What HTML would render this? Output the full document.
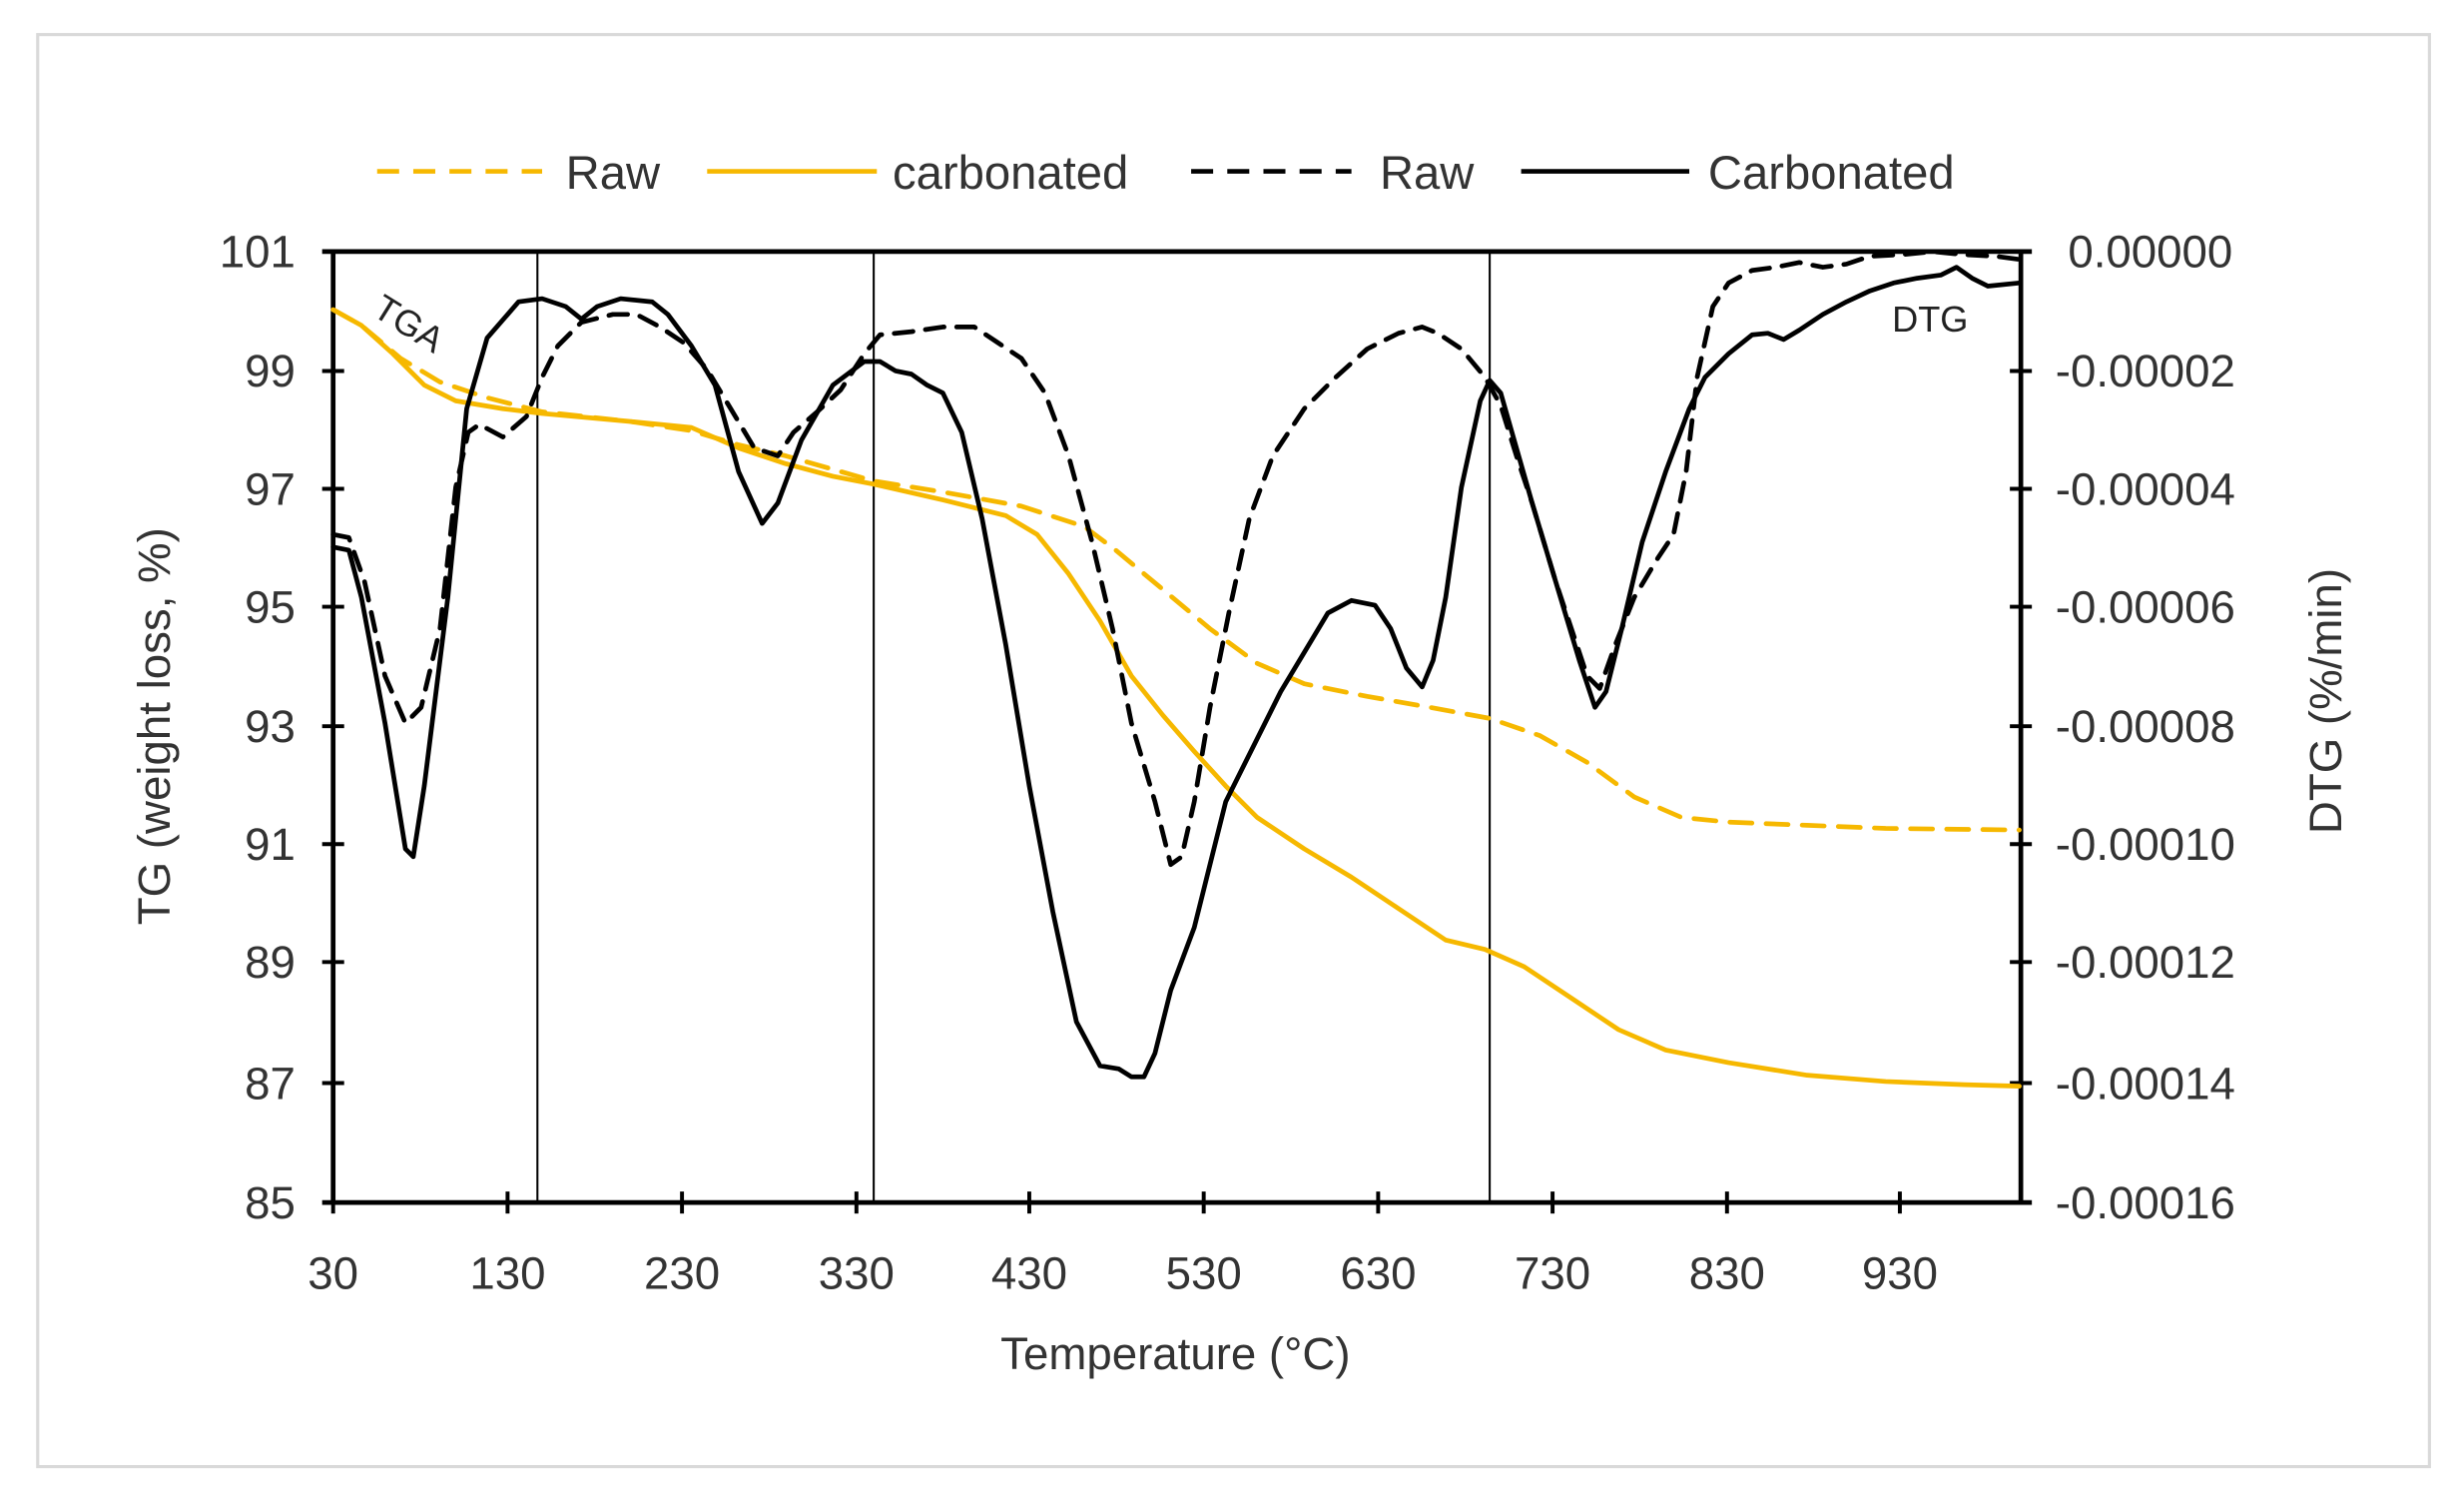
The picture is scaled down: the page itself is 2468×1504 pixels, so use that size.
<!DOCTYPE html>
<html><head><style>html,body{margin:0;padding:0;background:#fff}svg{display:block}</style></head>
<body>
<svg width="2468" height="1504" viewBox="0 0 1568 955.5" preserveAspectRatio="none" xmlns="http://www.w3.org/2000/svg" font-family="Liberation Sans, sans-serif">
<rect x="0" y="0" width="1568" height="955.5" fill="#fff"/>
<rect x="24" y="22" width="1522" height="911" fill="#fff" stroke="#d9d9d9" stroke-width="2"/>
<g font-size="30" fill="#333">
<line x1="240" y1="109" x2="345" y2="109" stroke="#f6b800" stroke-width="3" stroke-dasharray="14,9"/><text x="360" y="120">Raw</text>
<line x1="450" y1="109" x2="558" y2="109" stroke="#f6b800" stroke-width="3"/><text x="568" y="120">carbonated</text>
<line x1="758" y1="109" x2="860" y2="109" stroke="#000" stroke-width="3" stroke-dasharray="14,9"/><text x="878" y="120">Raw</text>
<line x1="968" y1="109" x2="1075" y2="109" stroke="#000" stroke-width="3"/><text x="1087" y="120">Carbonated</text>
</g>
<g stroke="#000" stroke-width="1.3">
<line x1="342" y1="160" x2="342" y2="765"/><line x1="556" y1="160" x2="556" y2="765"/><line x1="948" y1="160" x2="948" y2="765"/>
</g>
<g stroke="#000" stroke-width="3" fill="none">
<line x1="212" y1="160" x2="212" y2="765"/><line x1="1286" y1="160" x2="1286" y2="765"/>
<line x1="205" y1="160" x2="1293" y2="160"/><line x1="205" y1="765" x2="1293" y2="765"/>
</g>
<g stroke="#000" stroke-width="2.5">
<line x1="205" y1="236" x2="219" y2="236"/><line x1="205" y1="311" x2="219" y2="311"/><line x1="205" y1="386" x2="219" y2="386"/><line x1="205" y1="462" x2="219" y2="462"/><line x1="205" y1="537" x2="219" y2="537"/><line x1="205" y1="612" x2="219" y2="612"/><line x1="205" y1="689" x2="219" y2="689"/>
<line x1="1279" y1="236" x2="1293" y2="236"/><line x1="1279" y1="311" x2="1293" y2="311"/><line x1="1279" y1="386" x2="1293" y2="386"/><line x1="1279" y1="462" x2="1293" y2="462"/><line x1="1279" y1="537" x2="1293" y2="537"/><line x1="1279" y1="612" x2="1293" y2="612"/><line x1="1279" y1="689" x2="1293" y2="689"/>
<line x1="212" y1="758" x2="212" y2="772"/><line x1="323" y1="758" x2="323" y2="772"/><line x1="434" y1="758" x2="434" y2="772"/><line x1="545" y1="758" x2="545" y2="772"/><line x1="655" y1="758" x2="655" y2="772"/><line x1="766" y1="758" x2="766" y2="772"/><line x1="877" y1="758" x2="877" y2="772"/><line x1="988" y1="758" x2="988" y2="772"/><line x1="1099" y1="758" x2="1099" y2="772"/><line x1="1209" y1="758" x2="1209" y2="772"/>
</g>
<g font-size="29" fill="#333" text-anchor="end">
<text x="188" y="170">101</text><text x="188" y="246">99</text><text x="188" y="321">97</text><text x="188" y="396">95</text><text x="188" y="472">93</text><text x="188" y="547">91</text><text x="188" y="622">89</text><text x="188" y="699">87</text><text x="188" y="775">85</text>
</g>
<g font-size="29" fill="#333">
<text x="1316" y="170">0.00000</text><text x="1308" y="246">-0.00002</text><text x="1308" y="321">-0.00004</text><text x="1308" y="396">-0.00006</text><text x="1308" y="472">-0.00008</text><text x="1308" y="547">-0.00010</text><text x="1308" y="622">-0.00012</text><text x="1308" y="699">-0.00014</text><text x="1308" y="775">-0.00016</text>
</g>
<g font-size="29" fill="#333" text-anchor="middle">
<text x="212" y="820">30</text><text x="323" y="820">130</text><text x="434" y="820">230</text><text x="545" y="820">330</text><text x="655" y="820">430</text><text x="766" y="820">530</text><text x="877" y="820">630</text><text x="988" y="820">730</text><text x="1099" y="820">830</text><text x="1209" y="820">930</text>
<text x="748" y="871">Temperature (°C)</text>
<text transform="translate(108,462) rotate(-90)">TG (weight loss, %)</text>
<text transform="translate(1490,446) rotate(-90)">DTG (%/min)</text>
</g>
<text transform="translate(236,200) rotate(32)" font-size="23" fill="#222">TGA</text>
<text x="1204" y="211" font-size="23" fill="#222">DTG</text>
<g fill="none" stroke-linejoin="round" stroke-linecap="round">
<polyline stroke="#f6b800" stroke-width="3" points="212,197 230,207 250,225 270,245 290,255 320,260 345,263 400,268 440,272 470,285 500,295 530,303 556,308 600,318 640,328 660,340 680,365 700,395 720,430 740,455 760,478 780,500 800,520 830,540 860,558 890,578 920,598 945,604 970,615 1000,635 1030,655 1060,668 1100,676 1150,684 1200,688 1250,690 1285,691"/>
<polyline stroke="#f6b800" stroke-width="3" stroke-dasharray="14,9" points="212,197 230,207 255,228 280,243 310,253 345,262 400,268 440,274 470,283 500,290 556,306 600,313 650,322 690,335 710,350 740,375 770,400 800,422 830,435 870,443 910,450 948,457 980,468 1010,485 1040,507 1070,520 1100,523 1150,525 1200,527 1285,528"/>
<polyline stroke="#000" stroke-width="3" stroke-dasharray="12,8" points="212,340 222,342 232,370 245,430 258,460 268,450 280,400 290,310 298,275 305,270 320,278 335,265 345,240 355,220 370,205 390,200 405,200 420,208 435,218 450,235 465,260 480,285 495,290 505,275 520,262 535,248 550,225 560,213 580,211 600,208 620,208 635,218 650,228 665,250 680,290 695,345 708,400 720,460 735,510 745,550 752,545 760,510 770,450 782,390 795,330 810,290 830,260 850,240 870,222 890,212 905,208 915,212 930,222 945,240 955,258 965,290 975,320 990,370 1010,430 1018,438 1028,410 1040,380 1055,355 1065,340 1073,300 1080,240 1090,195 1100,180 1115,172 1130,170 1145,167 1160,170 1175,168 1190,163 1210,162 1230,160 1250,162 1270,163 1285,165"/>
<polyline stroke="#000" stroke-width="3" points="212,348 222,350 230,380 245,460 258,540 263,545 270,500 285,380 297,260 310,215 330,192 345,190 360,195 370,203 380,195 395,190 415,192 425,200 440,220 455,245 470,300 485,333 495,320 510,280 530,245 550,230 560,230 570,236 580,238 590,245 600,250 612,275 625,330 640,410 655,500 670,580 685,650 700,678 712,680 720,685 728,685 735,670 745,630 760,590 770,550 780,510 800,470 815,440 830,415 845,390 860,382 875,385 885,400 895,425 905,437 912,420 920,380 930,310 942,255 948,242 955,250 965,285 975,320 990,370 1005,420 1015,450 1022,440 1032,400 1045,345 1060,300 1075,260 1085,240 1100,225 1115,213 1125,212 1135,216 1145,210 1160,200 1175,192 1190,185 1205,180 1220,177 1235,175 1245,170 1255,177 1265,182 1285,180"/>
</g>
</svg>
</body></html>
